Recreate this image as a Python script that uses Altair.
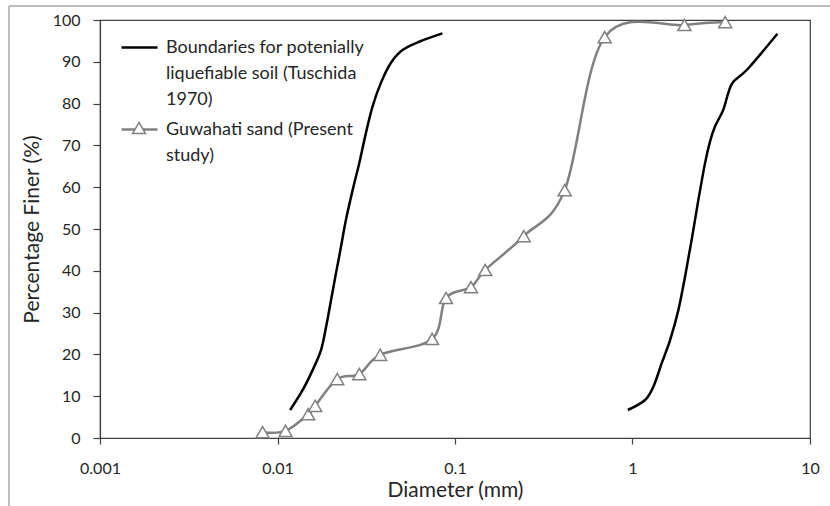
import altair as alt
import pandas as pd

SERIES_B = "Boundaries for potenially liquefiable soil (Tuschida 1970)"
SERIES_G = "Guwahati sand (Present study)"
LABEL_B = ["Boundaries for potenially", "liquefiable soil (Tuschida", "1970)"]
LABEL_G = ["Guwahati sand (Present", "study)"]

# Left boundary curve (diameter mm, % finer)
left_x = [0.01178, 0.01387, 0.01579, 0.0176, 0.01878, 0.02003, 0.02137, 0.0228, 0.0243,
          0.0265, 0.0289, 0.0315, 0.0343, 0.0382, 0.0435, 0.0506, 0.0628, 0.0849]
left_y = [6.7, 11.5, 16.3, 21.1, 26.6, 33.0, 39.5, 45.8, 52.2,
          59.3, 65.8, 73.0, 79.3, 84.9, 89.7, 92.8, 94.8, 96.8]

# Right boundary curve
right_x = [0.941, 1.178, 1.312, 1.461, 1.628, 1.813, 1.977, 2.154, 2.349,
           2.561, 2.733, 2.915, 3.245, 3.462, 3.693, 4.484, 6.55]
right_y = [6.7, 9.1, 12.3, 17.9, 23.4, 30.6, 38.6, 47.4, 56.9,
           65.7, 70.9, 74.5, 78.5, 82.5, 85.2, 88.4, 96.7]

# Guwahati sand
g_x = [0.00824, 0.0111, 0.0149, 0.0163, 0.0217, 0.0289, 0.0379, 0.0743, 0.089,
       0.123, 0.148, 0.244, 0.415, 0.697, 1.96, 3.33]
g_y = [1.4, 1.7, 5.7, 7.7, 14.1, 15.3, 19.9, 23.7, 33.5,
       36.1, 40.2, 48.3, 59.3, 95.9, 98.8, 99.5]

x_ticks = [0.001, 0.01, 0.1, 1, 10]
y_ticks = list(range(0, 101, 10))

rows = []
for name, series, xs, ys in [("left", SERIES_B, left_x, left_y),
                             ("right", SERIES_B, right_x, right_y),
                             ("guwahati", SERIES_G, g_x, g_y)]:
    for i, (xv, yv) in enumerate(zip(xs, ys)):
        rows.append({"series": series, "curve": name, "order": i, "d": xv, "p": yv})
df = pd.DataFrame(rows)

FONT = "Lato"
TXT = "#262626"
AX = "#404040"
GRAY = "#808080"
SYM = 1296  # 36 px legend line / marker path scale
TRI = "M0,-0.31L0.36,0.31L-0.36,0.31Z"

x_enc = alt.X("d:Q",
              scale=alt.Scale(type="log", domain=[0.001, 10]),
              axis=alt.Axis(values=x_ticks, format="~g", title="Diameter (mm)",
                            grid=False, tickSize=6, labelPadding=16, titlePadding=3,
                            labelFlush=False, labelOverlap=False))
y_enc = alt.Y("p:Q",
              scale=alt.Scale(domain=[0, 100], nice=False),
              axis=alt.Axis(values=y_ticks, title="Percentage Finer (%)", grid=False,
                            tickSize=7, labelPadding=13, titlePadding=10))


def js_list(items):
    return "[" + ", ".join("'" + s + "'" for s in items) + "]"


label_expr = (f"indexof(datum.value, 'Boundaries') == 0 ? {js_list(LABEL_B)} "
              f": {js_list(LABEL_G)}")

legend_common = dict(
    title=None, orient="none", legendX=20, legendY=8, padding=0,
    symbolSize=SYM, labelOffset=7,
    labelFont=FONT, labelFontSize=18, labelColor=TXT, labelLimit=400,
    labelBaseline="middle", labelExpr=label_expr,
    rowPadding=1,
)

color = alt.Color(
    "series:N",
    scale=alt.Scale(domain=[SERIES_B, SERIES_G], range=["#000000", GRAY]),
    legend=alt.Legend(symbolType="stroke", symbolStrokeWidth=2.5, **legend_common),
)

lines = alt.Chart(df).mark_line(interpolate="cardinal", tension=0, strokeWidth=2.5).encode(
    x=x_enc, y=y_enc, color=color, detail="curve:N", order="order:Q"
)

marker_domain = [SERIES_B + " ", SERIES_G + " "]
marker_legend = alt.Legend(symbolType=TRI, symbolStrokeWidth=1.5, labelOpacity=0,
                           **legend_common)
stroke = alt.Stroke("series2:N",
                    scale=alt.Scale(domain=marker_domain, range=["transparent", GRAY]),
                    legend=marker_legend)
fill = alt.Fill("series2:N",
                scale=alt.Scale(domain=marker_domain, range=["transparent", "white"]),
                legend=marker_legend)

points = alt.Chart(df).transform_filter(
    alt.datum.series == SERIES_G
).transform_calculate(series2="datum.series + ' '").mark_point(
    shape=TRI, strokeWidth=1.5, size=SYM, opacity=1, fillOpacity=1
).encode(x=x_enc, y=y_enc, stroke=stroke, fill=fill)

frame_df = pd.DataFrame({"k": [0]})
frame_top = alt.Chart(frame_df).mark_rule(color="#a6a6a6", strokeWidth=1.5).encode(
    x=alt.value(-91), x2=alt.value(740), y=alt.value(-14)
)
frame_left = alt.Chart(frame_df).mark_rule(color="#a6a6a6", strokeWidth=1.5).encode(
    x=alt.value(-91), y=alt.value(-14), y2=alt.value(500)
)

chart = alt.layer(frame_top, frame_left, lines, points).properties(
    width=710, height=418,
    autosize=alt.AutoSizeParams(type="none"),
    padding={"left": 100, "top": 20, "right": 20, "bottom": 68},
    background="white",
).configure(
    style={"guide-label": {"lineHeight": 26}}
).configure_view(
    stroke=AX, strokeWidth=1.2
).configure_axis(
    labelFont=FONT, labelFontSize=16, labelColor=TXT,
    titleFont=FONT, titleFontSize=21, titleFontWeight="normal", titleColor=TXT,
    domainColor=AX, tickColor=AX, domainWidth=1.2, tickWidth=1.2,
)

chart.save("out.html", embed_options={"renderer": "svg", "actions": False})
